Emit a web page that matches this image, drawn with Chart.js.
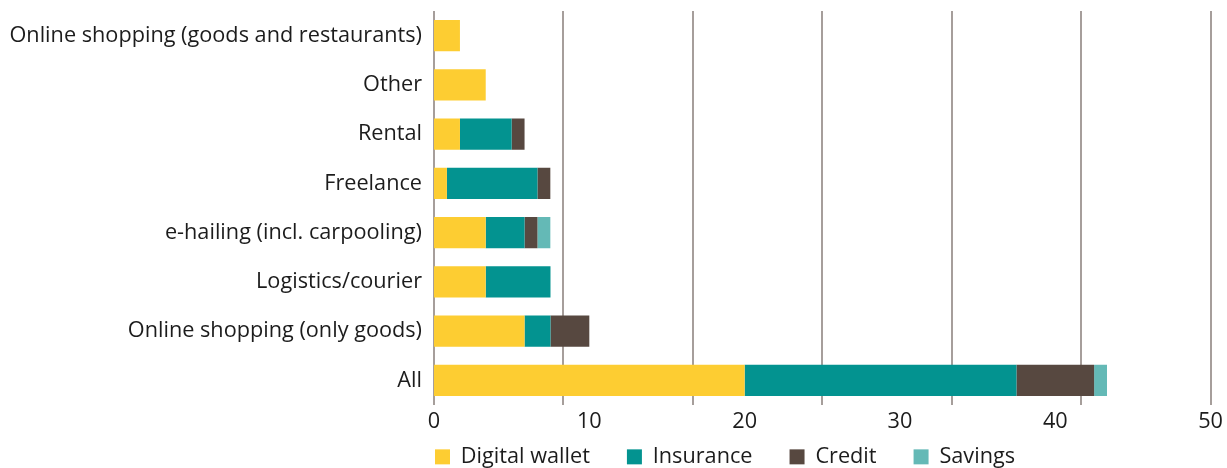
<!DOCTYPE html>
<html>
<head>
<meta charset="utf-8">
<script src="https://cdn.jsdelivr.net/npm/chart.js@4"></script>
<style>
  html, body { margin: 0; padding: 0; background: #ffffff; }
  #wrap { width: 1227px; height: 468px; position: relative; }
</style>
</head>
<body>
<div id="wrap"><canvas id="c" width="1227" height="468"></canvas></div>
<script>
const categories = [
  'Online shopping (goods and restaurants)',
  'Other',
  'Rental',
  'Freelance',
  'e-hailing (incl. carpooling)',
  'Logistics/courier',
  'Online shopping (only goods)',
  'All'
];
const digitalWallet = [1.67, 3.33, 1.67, 0.83, 3.33, 3.33, 5.83, 20.0];
const insurance     = [0, 0, 3.33, 5.83, 2.5, 4.17, 1.67, 17.5];
const credit        = [0, 0, 0.83, 0.83, 0.83, 0, 2.5, 5.0];
const savings       = [0, 0, 0, 0, 0.83, 0, 0, 0.83];
const seriesNames   = ['Digital wallet', 'Insurance', 'Credit', 'Savings'];
const valueTicks    = [0, 10, 20, 30, 40, 50];
const gridTicks     = [0, 10, 20, 30, 40, 50, 60];

const colors = ['#FDCD32', '#039390', '#574840', '#64B9B6'];
const FONT = "'Open Sans', 'Noto Sans', sans-serif";
const FS = 21.7;
const TEXT = '#1c1c1c';
const GRID = '#a69e9b';

const legendPlace = {
  id: 'legendPlace',
  afterLayout(chart) {
    const lg = chart.legend;
    if (!lg) return;
    const pad = lg.options.labels.padding;
    const dx = chart.chartArea.left + 1 - (lg.left + pad);
    lg.left += dx;
    lg.right += dx;
    lg.top = lg.bottom - 22 - pad;
  }
};

new Chart(document.getElementById('c'), {
  type: 'bar',
  data: {
    labels: categories,
    datasets: [digitalWallet, insurance, credit, savings].map((d, i) => ({
      label: seriesNames[i],
      data: d,
      backgroundColor: colors[i],
      borderWidth: 0,
      categoryPercentage: 1,
      barPercentage: 0.63,
      xAxisID: 'x',
      yAxisID: 'y'
    }))
  },
  options: {
    indexAxis: 'y',
    responsive: false,
    animation: false,
    maintainAspectRatio: false,
    layout: { padding: { left: 0, top: 11, right: 13, bottom: 0 } },
    plugins: {
      legend: {
        position: 'bottom',
        align: 'start',
        maxHeight: 33,
        labels: {
          boxWidth: 15,
          boxHeight: 15,
          padding: 37,
          color: TEXT,
          font: { family: FONT, size: FS }
        }
      },
      tooltip: { enabled: false }
    },
    scales: {
      x: {
        type: 'linear',
        position: 'bottom',
        stacked: true,
        min: 0,
        max: 50,
        weight: 1,
        afterBuildTicks: (s) => { s.ticks = valueTicks.map(v => ({ value: v })); },
        afterFit: (s) => { s.height = 30; },
        grid: { display: false, drawTicks: false },
        border: { display: false },
        ticks: {
          padding: 4,
          color: TEXT,
          font: { family: FONT, size: FS },
          maxRotation: 0
        }
      },
      x2: {
        type: 'linear',
        position: 'bottom',
        min: 0,
        max: 60,
        weight: 0,
        afterBuildTicks: (s) => { s.ticks = gridTicks.map(v => ({ value: v })); },
        afterFit: (s) => { s.height = 0; },
        grid: { display: true, drawTicks: false, color: GRID, lineWidth: 2 },
        border: { display: false },
        ticks: { display: false }
      },
      y: {
        stacked: true,
        afterFit: (s) => { s.width = 434; s.paddingTop = 0; s.paddingBottom = 0; },
        grid: { display: false, drawTicks: false },
        border: { display: false },
        ticks: {
          padding: 12,
          color: TEXT,
          font: { family: FONT, size: FS },
          autoSkip: false
        }
      }
    }
  },
  plugins: [legendPlace]
});
</script>
</body>
</html>
